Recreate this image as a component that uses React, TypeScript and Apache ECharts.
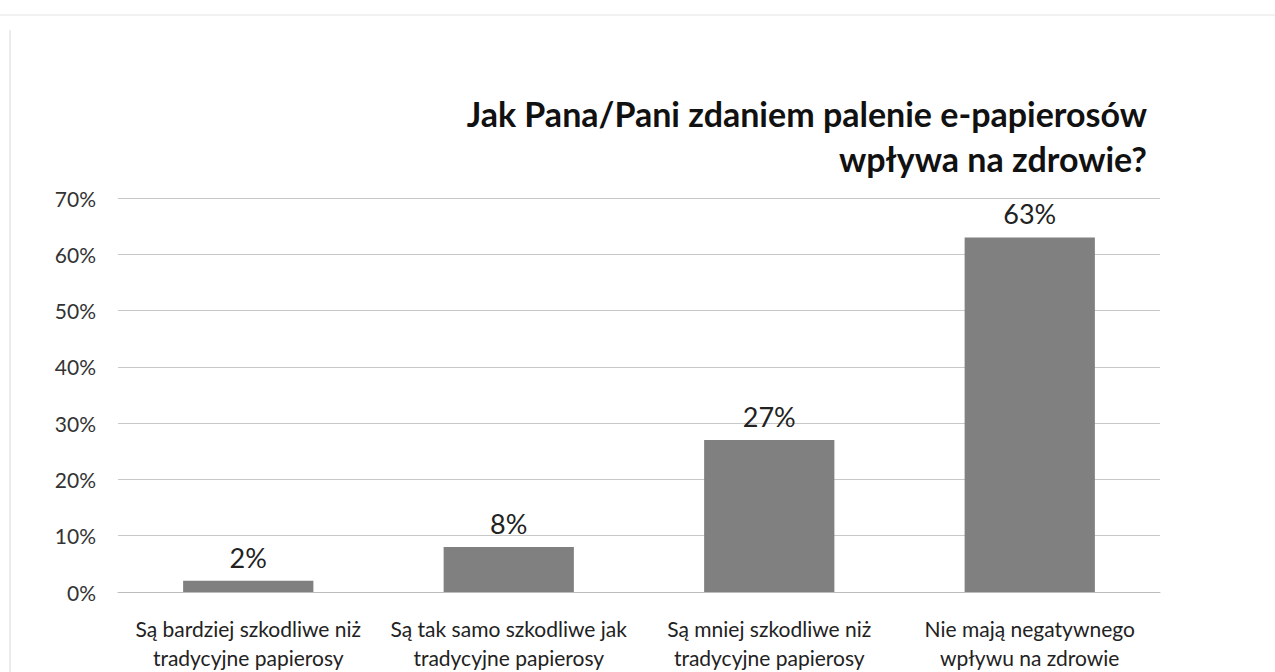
import React, { useEffect, useRef } from "react";
import * as echarts from "echarts";

const titleLines = ["Jak Pana/Pani zdaniem palenie e-papierosów", "wpływa na zdrowie?"];
const categories = [
  "Są bardziej szkodliwe niż\ntradycyjne papierosy",
  "Są tak samo szkodliwe jak\ntradycyjne papierosy",
  "Są mniej szkodliwe niż\ntradycyjne papierosy",
  "Nie mają negatywnego\nwpływu na zdrowie",
];
const values = [2, 8, 27, 63];
const yMin = 0;
const yMax = 70;
const yStep = 10;

export default function App() {
  const ref = useRef<HTMLDivElement>(null);
  useEffect(() => {
    if (!ref.current) return;
    const chart = echarts.init(ref.current, null, { renderer: "svg" });
    const font = "Lato, 'Open Sans', sans-serif";
    chart.setOption({
      animation: false,
      backgroundColor: "#ffffff",
      textStyle: { fontFamily: font },
      graphic: [
        { type: "line", shape: { x1: 10, y1: 30, x2: 10, y2: 672 }, style: { stroke: "#d8d8d8", lineWidth: 1 } },
        { type: "line", shape: { x1: 0, y1: 15, x2: 1275, y2: 15 }, style: { stroke: "#e4e4e4", lineWidth: 1 } },
        {
          type: "text",
          x: 1147,
          y: 113,
          style: {
            text: titleLines[0],
            fontFamily: font,
            fontSize: 34,
            fontWeight: "bold",
            fill: "#111",
            textAlign: "right",
            textVerticalAlign: "middle",
          },
        },
        {
          type: "text",
          x: 1147,
          y: 158,
          style: {
            text: titleLines[1],
            fontFamily: font,
            fontSize: 34,
            fontWeight: "bold",
            fill: "#111",
            textAlign: "right",
            textVerticalAlign: "middle",
          },
        },
      ],
      grid: { left: 118, width: 1042, top: 198, height: 403 },
      xAxis: {
        type: "category",
        data: categories,
        axisLine: { show: true, lineStyle: { color: "#bdbdbd", width: 1 } },
        axisTick: { show: false },
        axisLabel: {
          interval: 0,
          fontFamily: font,
          fontSize: 21,
          color: "#222",
          lineHeight: 29,
          margin: 22,
        },
      },
      yAxis: {
        type: "value",
        min: yMin,
        max: yMax,
        interval: yStep,
        axisLine: { show: false },
        axisTick: { show: false },
        splitLine: { lineStyle: { color: "#c8c8c8", width: 1 } },
        axisLabel: {
          fontFamily: font,
          fontSize: 21,
          color: "#333",
          margin: 22,
          formatter: (v: number) => v + "%",
        },
      },
      series: [
        {
          type: "bar",
          data: values,
          barWidth: "50%",
          itemStyle: { color: "#808080" },
          label: {
            show: true,
            position: "top",
            distance: 10,
            fontFamily: font,
            fontSize: 27,
            color: "#222",
            formatter: (p: any) => p.value + "%",
          },
        },
      ],
    });
    return () => chart.dispose();
  }, []);
  return (
    <div
      ref={ref}
      style={{ position: "fixed", left: 0, top: 0, width: 1275, height: 672 }}
    />
  );
}
